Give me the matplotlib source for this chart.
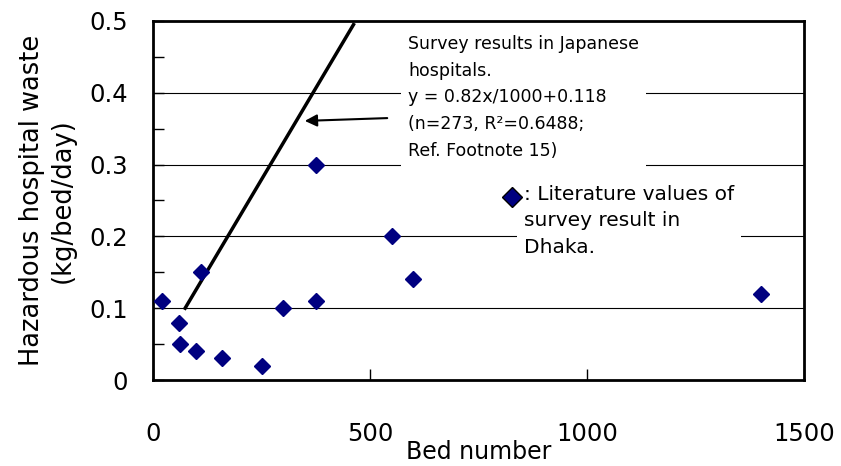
import matplotlib.pyplot as plt
from matplotlib.ticker import MultipleLocator

plt.rcParams['font.family'] = ['DejaVu Sans']

# Dhaka literature values
beds = [20, 61, 63, 100, 111, 160, 252, 300, 375, 375, 550, 600, 1400]
waste = [0.11, 0.08, 0.05, 0.04, 0.15, 0.03, 0.02, 0.10, 0.11, 0.30, 0.20, 0.14, 0.12]

# regression line as drawn in the original
line_x = [74, 462]
line_y = [0.10, 0.495]

fig = plt.figure(figsize=(8.41, 4.66), dpi=100)
ax = fig.add_axes([153/841, 1 - 380/466, (804-153)/841, (380-21)/466])

for g in [0.1, 0.2, 0.3, 0.4]:
    ax.axhline(g, color='black', lw=0.8, zorder=1)

ax.plot(line_x, line_y, color='black', lw=2.5, zorder=3)
ax.plot(beds, waste, linestyle='none', marker='D', ms=8.5, color='#000080',
        markeredgecolor='#000080', zorder=4)

ax.set_xlim(0, 1500)
ax.set_ylim(0, 0.5)
ax.xaxis.set_major_locator(MultipleLocator(500))
ax.yaxis.set_minor_locator(MultipleLocator(0.05))
ax.set_yticks([0, 0.1, 0.2, 0.3, 0.4, 0.5])
ax.set_yticklabels(['0', '0.1', '0.2', '0.3', '0.4', '0.5'])
ax.tick_params(axis='both', direction='in', length=8, width=1, labelsize=17.5)
ax.tick_params(axis='y', which='minor', direction='in', length=8, width=1)
ax.tick_params(axis='y', pad=18)
ax.tick_params(axis='x', pad=30)
for s in ax.spines.values():
    s.set_linewidth(2)

ax.set_ylabel('Hazardous hospital waste\n(kg/bed/day)', fontsize=18.5, labelpad=10,
              linespacing=1.2)
ax.set_xlabel('Bed number', fontsize=17, labelpad=-4)

# annotation for the Japanese survey line
ax.text(408/841, 1 - 35/466, 'Survey results in Japanese\nhospitals.\ny = 0.82x/1000+0.118\n(n=273, R²=0.6488;\nRef. Footnote 15)',
        transform=fig.transFigure, fontsize=12.5, va='top', ha='left', linespacing=1.62,
        bbox=dict(facecolor='white', edgecolor='none', pad=5), zorder=5)
ax.annotate('', xy=(302/841, 1 - 121/466), xytext=(390/841, 1 - 118/466),
            xycoords='figure fraction', textcoords='figure fraction',
            arrowprops=dict(arrowstyle='-|>', color='black', lw=1.5, mutation_scale=18))

# legend-like label
ax.text(524/841, 1 - 185/466, ': Literature values of\nsurvey result in\nDhaka.',
        transform=fig.transFigure, fontsize=14.5, va='top', ha='left', linespacing=1.5,
        bbox=dict(facecolor='white', edgecolor='none', pad=5), zorder=5)
ax.plot([512/841], [1 - 197/466], transform=fig.transFigure, marker='D', ms=10,
        color='#000080', markeredgecolor='black', clip_on=False, zorder=6)

fig.savefig('out.png', dpi=100)
